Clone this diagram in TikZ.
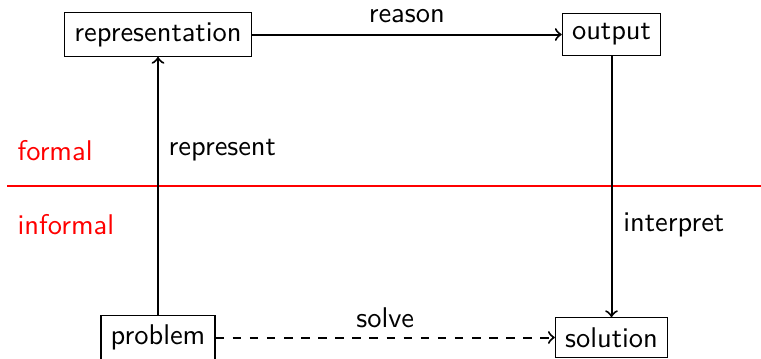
\documentclass[tikz,border=0pt]{standalone}
\usetikzlibrary{positioning}
\begin{document}
\begin{tikzpicture}[x=0.351pt,y=-0.351pt,font=\sffamily,
  box/.style={draw,thin,inner sep=3.4pt},
  arr/.style={->,line width=0.7pt},
  lbl/.style={inner sep=0pt},
  redlbl/.style={text=red,inner sep=0pt,anchor=west}]
\useasboundingbox (0,0) rectangle (761,358);
\node[box] (rep) at (158,34.5) {representation};
\node[box] (out) at (611.5,34.5) {output};
\node[box] (prob) at (158,337.5) {problem};
\node[box] (sol) at (611.5,337.5) {solution};
\coordinate (rl) at (7,186);
\coordinate (rr) at (761,186);
\draw[red,line width=0.7pt] (rl) -- (rr);
\node[redlbl] (formal) at (17,151) {formal};
\node[redlbl] (informal) at (17,225) {informal};
\draw[arr] (rep.east) -- node[above=3.8pt,lbl] (reason) {reason} (rep.east -| out.west);
\draw[arr] (prob.north) -- node[pos=0.64,right=3.4pt,lbl] (represent) {represent} (rep.south);
\draw[arr] (out.south) -- node[pos=0.647,right=3.8pt,lbl] (interpret) {interpret} (sol.north);
\draw[arr,dashed] (prob.east) -- node[above=3pt,lbl] (solve) {solve} (prob.east -| sol.west);
\end{tikzpicture}
\end{document}
